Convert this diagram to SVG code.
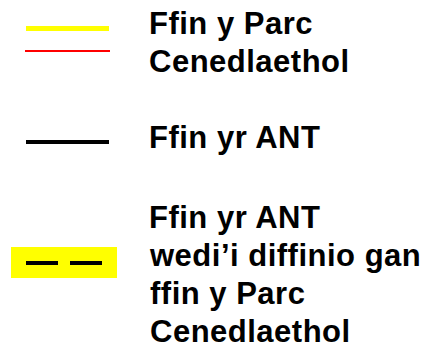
<svg xmlns="http://www.w3.org/2000/svg" width="429" height="352" viewBox="0 0 429 352">
<style>
text{font-family:"Liberation Sans",Arial,sans-serif;font-size:31px;font-weight:bold;letter-spacing:0.5px;fill:#000}
</style>
<rect width="429" height="352" fill="#fff"/>
<g id="legend-park">
<rect x="26" y="26" width="83" height="5" fill="#ffff00"/>
<line x1="25" y1="51" x2="110" y2="51" stroke="#ff0000" stroke-width="2"/>
<text x="149" y="34">Ffin y Parc</text>
<text x="149" y="72">Cenedlaethol</text>
</g>
<g id="legend-ant">
<rect x="26" y="140" width="83" height="4" fill="#000"/>
<text x="149" y="148">Ffin yr ANT</text>
</g>
<g id="legend-ant-park">
<rect x="11" y="247" width="106" height="31" fill="#ffff00"/>
<rect x="26" y="261" width="32" height="4" fill="#000"/>
<rect x="70" y="261" width="32" height="4" fill="#000"/>
<text x="149" y="228">Ffin yr ANT</text>
<text x="150" y="266">wedi’i diffinio gan</text>
<text x="150" y="304">ffin y Parc</text>
<text x="150" y="342">Cenedlaethol</text>
</g>
</svg>
